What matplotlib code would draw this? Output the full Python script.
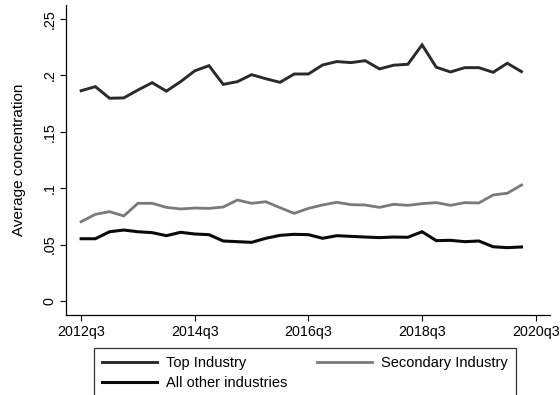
import numpy as np
import matplotlib
matplotlib.use("Agg")
import matplotlib.pyplot as plt

plt.rcParams['font.family'] = ['Liberation Sans', 'DejaVu Sans']

# Quarterly periods, 2012q3 .. 2020q2
start_year, start_q = 2012, 3
n_quarters = 32
quarter_labels = []
for i in range(n_quarters + 1):
    q0 = start_q - 1 + i
    quarter_labels.append(f"{start_year + q0 // 4}q{q0 % 4 + 1}")

top_industry = [0.1864, 0.1900, 0.1797, 0.1800, 0.1870, 0.1935, 0.1860, 0.1944,
                0.2040, 0.2086, 0.1920, 0.1944, 0.2006, 0.1970, 0.1938, 0.2012,
                0.2012, 0.2092, 0.2122, 0.2113, 0.2130, 0.2057, 0.2090, 0.2098,
                0.2270, 0.2072, 0.2030, 0.2068, 0.2068, 0.2027, 0.2107, 0.2033]
secondary_industry = [0.0703, 0.0768, 0.0792, 0.0754, 0.0866, 0.0866, 0.0830, 0.0816,
                      0.0824, 0.0821, 0.0833, 0.0895, 0.0866, 0.0880, 0.0827, 0.0777,
                      0.0821, 0.0851, 0.0875, 0.0854, 0.0851, 0.0830, 0.0857, 0.0848,
                      0.0863, 0.0872, 0.0848, 0.0872, 0.0869, 0.0940, 0.0955, 0.1028]
other_industries = [0.0552, 0.0552, 0.0614, 0.0629, 0.0614, 0.0606, 0.0579, 0.0609,
                    0.0594, 0.0588, 0.0532, 0.0526, 0.0520, 0.0556, 0.0582, 0.0591,
                    0.0588, 0.0556, 0.0579, 0.0573, 0.0567, 0.0562, 0.0567, 0.0565,
                    0.0614, 0.0535, 0.0538, 0.0526, 0.0532, 0.0481, 0.0473, 0.0479]

y_ticks = [0, 0.05, 0.1, 0.15, 0.2, 0.25]
y_tick_labels = ["0", ".05", ".1", ".15", ".2", ".25"]

x = np.arange(n_quarters)

fig = plt.figure(figsize=(5.6, 3.95), dpi=100)
ax = fig.add_axes([0.118, 0.2025, 0.864, 0.785])

l_top, = ax.plot(x, top_industry, color='#2a2a2a', lw=2.1, solid_joinstyle='miter')
l_sec, = ax.plot(x, secondary_industry, color='#7a7a7a', lw=2.0, solid_joinstyle='miter')
l_oth, = ax.plot(x, other_industries, color='#0a0a0a', lw=2.2, solid_joinstyle='miter')

ax.set_xlim(-1.06, 33.0)
ax.set_ylim(-0.0124, 0.2624)

xt = list(range(0, n_quarters + 1, 8))
ax.set_xticks(xt)
ax.set_xticklabels([quarter_labels[i] for i in xt], fontsize=10.3)
ax.set_yticks(y_ticks)
ax.set_yticklabels(y_tick_labels, fontsize=10.3, rotation=90, va='center')
ax.tick_params(direction='out', length=4, width=0.8, colors='black', pad=3)
ax.set_ylabel("Average concentration", fontsize=11, labelpad=12)

for side in ['top', 'right']:
    ax.spines[side].set_visible(False)
for side in ['left', 'bottom']:
    ax.spines[side].set_linewidth(0.9)

# legend box below the plot, two columns
leg = fig.legend([l_top, l_oth, l_sec],
                 ["Top Industry", "All other industries", "Secondary Industry"],
                 ncol=2, loc='upper left',
                 bbox_to_anchor=(94 / 560, 1 - 348 / 395),
                 fontsize=10.5, frameon=True, fancybox=False,
                 handlelength=3.8, handletextpad=0.6, columnspacing=2.0,
                 labelspacing=0.4, borderpad=0.55, borderaxespad=0)
leg.get_frame().set_edgecolor('black')
leg.get_frame().set_linewidth(0.9)

fig.savefig("out.png", dpi=100)
